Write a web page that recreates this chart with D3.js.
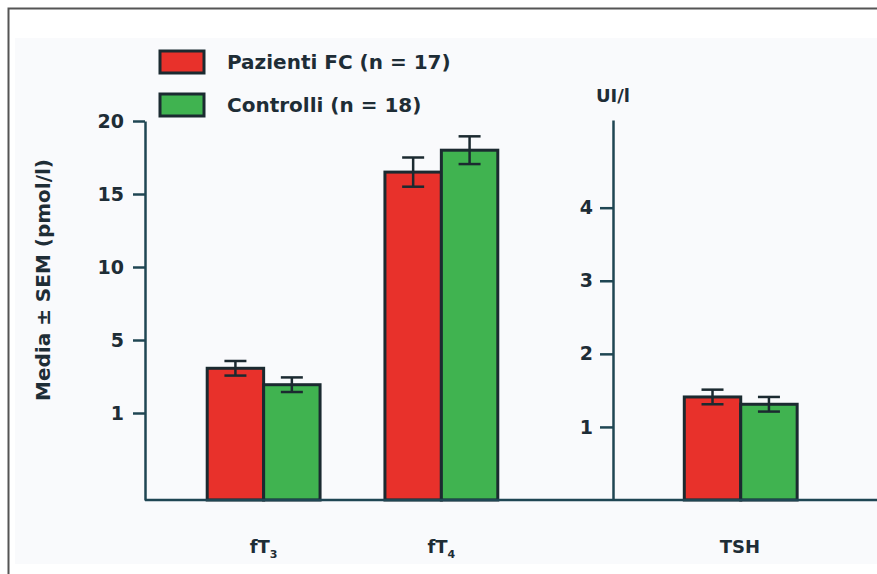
<!DOCTYPE html>
<html>
<head>
<meta charset="utf-8">
<script src="https://cdn.jsdelivr.net/npm/d3@7"></script>
<style>
  body { margin: 0; background: #fff; }
  text { font-family: "DejaVu Sans", sans-serif; font-weight: bold; fill: #1e2d36; }
</style>
</head>
<body>
<svg id="chart"></svg>
<script>
// Data
const leftCategories = ["fT3", "fT4"];
const rightCategories = ["TSH"];
const seriesNames = ["Pazienti FC (n = 17)", "Controlli (n = 18)"];
const pazientiMeans = [3.45, 16.5, 1.41];
const pazientiSem = [0.4, 1.0, 0.1];
const controlliMeans = [2.55, 18.0, 1.31];
const controlliSem = [0.4, 0.95, 0.1];
const leftTicks = [1, 5, 10, 15, 20];
const rightTicks = [1, 2, 3, 4];

const width = 877, height = 574;
const colors = ["#e8312b", "#40b350"];
const ink = "#1b2a30", axisInk = "#1f4653";
const baseY = 500;

const svg = d3.select("#chart").attr("width", width).attr("height", height);

// background + frame
svg.append("rect").attr("x", 15).attr("y", 38).attr("width", width - 15).attr("height", 526)
    .attr("fill", "#f9fafc");
svg.append("path").attr("d", `M8.5,${height} V8.5 H${width}`)
    .attr("fill", "none").attr("stroke", "#555").attr("stroke-width", 2);

// Scales (left axis is not linear in the original: 0-1-5 squeezed)
const yLeft = d3.scaleLinear().domain([0, 1, 5, 20]).range([baseY, 413, 340, 121]);
const yRight = d3.scaleLinear().domain([0, 5.2]).range([baseY, 120]);

const xLeft = d3.scaleBand().domain(leftCategories).range([145, 560])
    .paddingInner(0.365).paddingOuter(0.35);
const xRight = d3.scaleBand().domain(rightCategories).range([613, 867])
    .paddingInner(0).paddingOuter(0.64);
const xSeries = d3.scaleBand().domain(seriesNames).range([0, xLeft.bandwidth()]);

// rows: one entry per bar
const rows = [];
[...leftCategories, ...rightCategories].forEach((cat, i) => {
    const isRight = i >= leftCategories.length;
    const xs = isRight ? xRight : xLeft;
    const ys = isRight ? yRight : yLeft;
    [[pazientiMeans, pazientiSem], [controlliMeans, controlliSem]].forEach(([m, s], j) => {
        rows.push({ cat, series: seriesNames[j], mean: m[i], sem: s[i], xs, ys, color: colors[j] });
    });
});

// bars
const barW = xSeries.bandwidth();
svg.append("g").selectAll("rect").data(rows).join("rect")
    .attr("x", d => d.xs(d.cat) + xSeries(d.series))
    .attr("y", d => d.ys(d.mean))
    .attr("width", barW)
    .attr("height", d => baseY - d.ys(d.mean))
    .attr("fill", d => d.color)
    .attr("stroke", ink).attr("stroke-width", 3);

// error bars
const err = svg.append("g").attr("stroke", ink).attr("stroke-width", 2.5);
rows.forEach(d => {
    const cx = d.xs(d.cat) + xSeries(d.series) + barW / 2;
    const y1 = d.ys(d.mean + d.sem), y2 = d.ys(d.mean - d.sem);
    err.append("line").attr("x1", cx).attr("x2", cx).attr("y1", y1).attr("y2", y2);
    [y1, y2].forEach(y => err.append("line")
        .attr("x1", cx - 11).attr("x2", cx + 11).attr("y1", y).attr("y2", y));
});

// baseline
svg.append("line").attr("x1", 145).attr("x2", width).attr("y1", baseY).attr("y2", baseY)
    .attr("stroke", axisInk).attr("stroke-width", 2.5);

// axes
function styleAxis(g) {
    g.selectAll("path").attr("stroke", axisInk).attr("stroke-width", 2.5);
    g.selectAll(".tick line").attr("stroke", axisInk).attr("stroke-width", 2.5);
    g.selectAll(".tick text").attr("font-size", 19).attr("font-family", null).attr("fill", null);
}
svg.append("g").attr("transform", "translate(145,0)")
    .call(d3.axisLeft(yLeft).tickValues(leftTicks).tickFormat(d3.format("d"))
        .tickSize(12).tickSizeOuter(0).tickPadding(9))
    .call(styleAxis);
svg.append("g").attr("transform", "translate(613,0)")
    .call(d3.axisLeft(yRight).tickValues(rightTicks).tickFormat(d3.format("d"))
        .tickSize(13).tickSizeOuter(0).tickPadding(7))
    .call(styleAxis);

// x labels
const xLabels = svg.append("g");
[...leftCategories.map(c => [c, xLeft]), ...rightCategories.map(c => [c, xRight])].forEach(([c, xs]) => {
    const t = xLabels.append("text")
        .attr("x", xs(c) + xs.bandwidth() / 2).attr("y", 553)
        .attr("text-anchor", "middle").attr("font-size", 18);
    if (c.startsWith("fT")) {
        t.append("tspan").text("fT");
        t.append("tspan").attr("font-size", 11).attr("dy", 5).text(c.slice(2));
    } else {
        t.text(c);
    }
});

// axis titles
svg.append("text").attr("transform", "translate(50,280) rotate(-90)")
    .attr("text-anchor", "middle").attr("font-size", 20)
    .text("Media ± SEM (pmol/l)");
svg.append("text").attr("x", 613).attr("y", 102).attr("text-anchor", "middle")
    .attr("font-size", 18).text("UI/l");

// legend
const legend = svg.append("g").attr("transform", "translate(160,51)");
legend.selectAll("rect").data(seriesNames).join("rect")
    .attr("x", 0).attr("y", (d, i) => i * 43)
    .attr("width", 44).attr("height", 22)
    .attr("fill", (d, i) => colors[i])
    .attr("stroke", ink).attr("stroke-width", 3);
legend.selectAll("text").data(seriesNames).join("text")
    .attr("x", 67).attr("y", (d, i) => i * 43 + 18)
    .attr("font-size", 20)
    .text(d => d);
</script>
</body>
</html>
